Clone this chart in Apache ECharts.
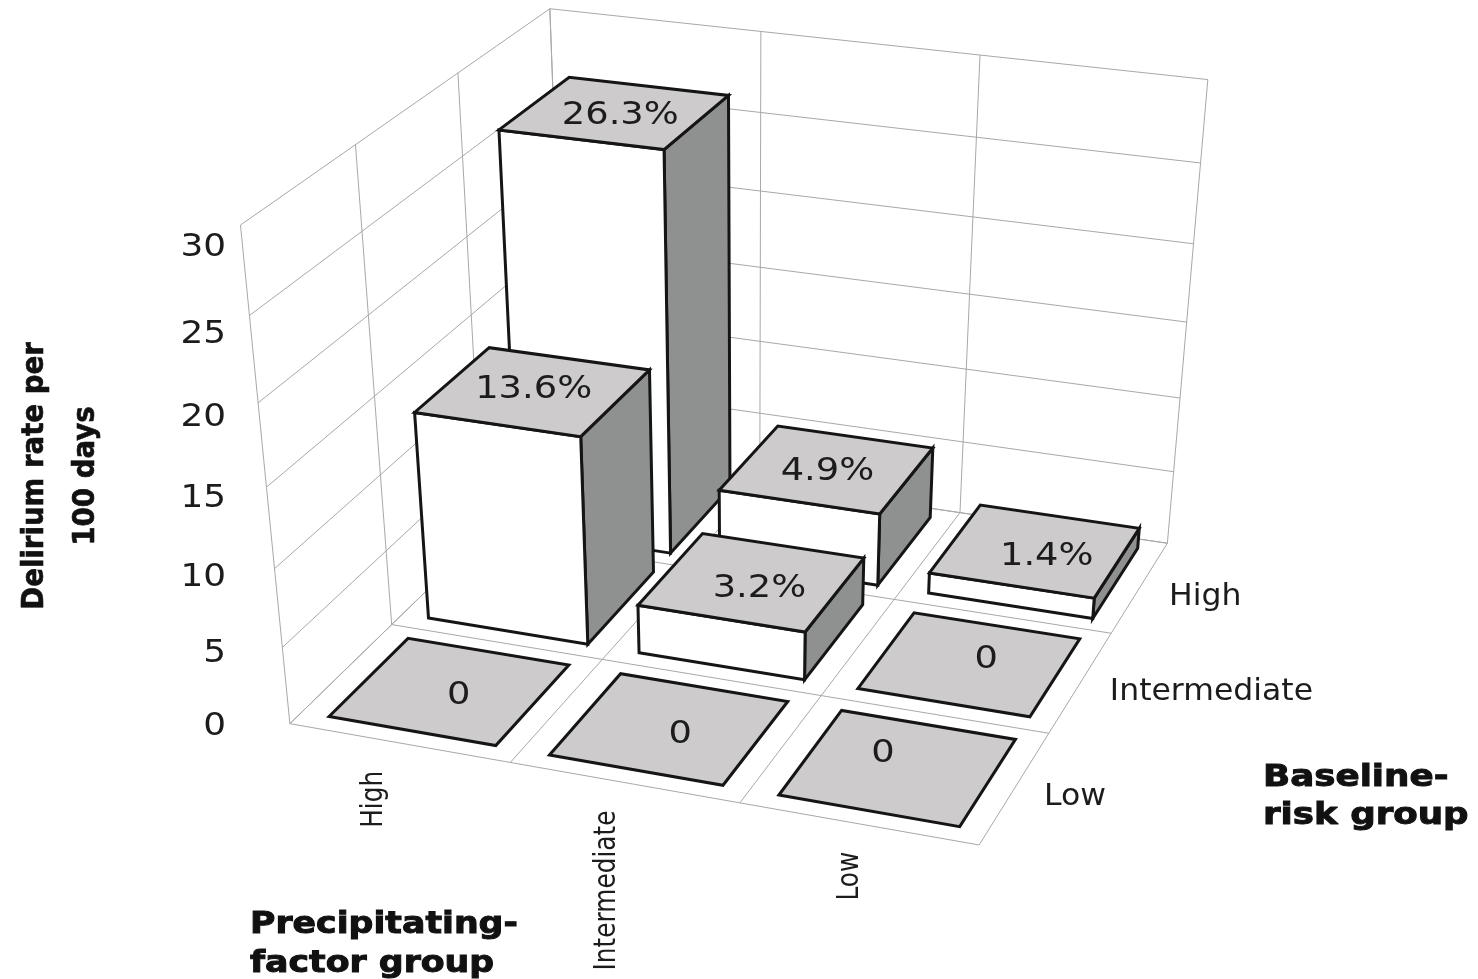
<!DOCTYPE html>
<html>
<head>
<meta charset="utf-8">
<title>Delirium rate per 100 days</title>
<script src="https://cdn.jsdelivr.net/npm/echarts@6/dist/echarts.min.js"></script>
<style>
  html, body { margin: 0; padding: 0; background: #fff; }
  #chart { width: 1478px; height: 979px; }
</style>
</head>
<body>
<div id="chart"></div>
<script>
const precipitatingGroups = ['High', 'Intermediate', 'Low'];
const baselineGroups = ['Low', 'Intermediate', 'High'];
const rateTicks = [0, 5, 10, 15, 20, 25, 30];
// rates per precipitating group, in the order of baselineGroups
const highPrecipitatingRates = [0, 13.6, 26.3];
const intermediatePrecipitatingRates = [0, 3.2, 4.9];
const lowPrecipitatingRates = [0, 0, 1.4];
const ratesByPrecipitating = [highPrecipitatingRates, intermediatePrecipitatingRates, lowPrecipitatingRates];

// camera calibration: box position (precipitating, baseline, rate) -> pixel
const cameraPoints = [
  [0, 0, 0, 290, 723], [1, 0, 0, 512, 763], [2, 0, 0, 742, 803], [3, 0, 0, 978, 846],
  [3, 1, 0, 1048, 733], [3, 2, 0, 1110, 633], [3, 3, 0, 1169, 543], [0, 1, 0, 390, 624],
  [0, 0, 30, 240, 225], [0, 1, 30, 356, 145], [0, 2, 30, 458, 72], [0, 3, 30, 549, 10],
  [1, 3, 30, 763, 32], [2, 3, 30, 979, 55], [3, 3, 30, 1208, 78],
  [0, 0, 15, 266, 487], [3, 3, 15, 1186, 323]
];

function solveCamera(points) {
  const ata = Array.from({ length: 11 }, () => new Array(12).fill(0));
  const addRow = (row, rhs) => {
    for (let i = 0; i < 11; i++) {
      for (let j = 0; j < 11; j++) ata[i][j] += row[i] * row[j];
      ata[i][11] += row[i] * rhs;
    }
  };
  points.forEach(([u, v, w, px, py]) => {
    const z = w / 10, x = px / 1000, y = py / 1000;
    addRow([u, v, z, 1, 0, 0, 0, 0, -x * u, -x * v, -x * z], x);
    addRow([0, 0, 0, 0, u, v, z, 1, -y * u, -y * v, -y * z], y);
  });
  for (let c = 0; c < 11; c++) {
    let pivot = c;
    for (let r = c + 1; r < 11; r++) if (Math.abs(ata[r][c]) > Math.abs(ata[pivot][c])) pivot = r;
    [ata[c], ata[pivot]] = [ata[pivot], ata[c]];
    for (let r = 0; r < 11; r++) {
      if (r === c) continue;
      const f = ata[r][c] / ata[c][c];
      for (let k = c; k < 12; k++) ata[r][k] -= f * ata[c][k];
    }
  }
  return ata.map((row, i) => row[11] / row[i]);
}

const cam = solveCamera(cameraPoints);
function project(u, v, w) {
  const z = w / 10;
  const d = cam[8] * u + cam[9] * v + cam[10] * z + 1;
  return [
    1000 * (cam[0] * u + cam[1] * v + cam[2] * z + cam[3]) / d,
    1000 * (cam[4] * u + cam[5] * v + cam[6] * z + cam[7]) / d
  ];
}

const FONT = '"DejaVu Sans", sans-serif';
const TEXT_COLOR = '#1c1c1c';
const GRID_COLOR = '#a8a8a8';
const TOP_COLOR = '#cdcbcc';
const SIDE_COLOR = '#8f9190';
const EDGE_COLOR = '#151515';
const INSET_U = 0.125;
const SIZE_U = 0.76;
const INSET_V = 0.115;
const SIZE_V = 0.785;
// the value labels do not sit dead centre on every top face
const labelNudge = {
  '0,0': [8, 5], '1,0': [10, 7], '2,0': [-16, -13],
  '0,1': [0, -1], '1,1': [7, 7], '2,1': [16, -4],
  '0,2': [5, 3], '1,2': [0, 3], '2,2': [11, 6]
};

function segment(a, b) {
  return {
    type: 'line',
    shape: { x1: a[0], y1: a[1], x2: b[0], y2: b[1] },
    style: { stroke: GRID_COLOR, lineWidth: 1 }
  };
}

function face(points, fill) {
  return {
    type: 'polygon',
    shape: { points },
    style: { fill, stroke: EDGE_COLOR, lineWidth: 3, lineJoin: 'miter' }
  };
}

function label(text, x, y, size, align, scaleX) {
  return {
    type: 'text',
    x,
    y,
    scaleX,
    style: {
      text,
      fill: TEXT_COLOR,
      font: 'normal ' + size + 'px ' + FONT,
      textAlign: align,
      textVerticalAlign: 'middle'
    }
  };
}

function renderFrame() {
  const us = precipitatingGroups.length;
  const vs = baselineGroups.length;
  const top = rateTicks[rateTicks.length - 1];
  const children = [];
  rateTicks.forEach((t) => {
    children.push(segment(project(0, 0, t), project(0, vs, t)));
    children.push(segment(project(0, vs, t), project(us, vs, t)));
  });
  for (let v = 0; v <= vs; v++) {
    children.push(segment(project(0, v, 0), project(0, v, top)));
    children.push(segment(project(0, v, 0), project(us, v, 0)));
  }
  for (let u = 0; u <= us; u++) {
    children.push(segment(project(u, vs, 0), project(u, vs, top)));
    children.push(segment(project(u, 0, 0), project(u, vs, 0)));
  }
  return { type: 'group', children };
}

function renderBar(params, api) {
  const col = api.value(0);
  const row = api.value(1);
  const rate = api.value(2);
  const u0 = col + INSET_U;
  const v0 = row + INSET_V;
  const u1 = u0 + SIZE_U;
  const v1 = v0 + SIZE_V;
  const topFace = [project(u0, v0, rate), project(u1, v0, rate), project(u1, v1, rate), project(u0, v1, rate)];
  const children = [];
  if (rate > 0) {
    children.push(face([project(u1, v0, 0), project(u1, v1, 0), project(u1, v1, rate), project(u1, v0, rate)], SIDE_COLOR));
    children.push(face([project(u0, v0, 0), project(u1, v0, 0), project(u1, v0, rate), project(u0, v0, rate)], '#ffffff'));
  }
  children.push(face(topFace, TOP_COLOR));
  const c = project((u0 + u1) / 2, (v0 + v1) / 2, rate);
  const nudge = labelNudge[col + ',' + row] || [0, 0];
  children.push(label(rate > 0 ? rate.toFixed(1) + '%' : '0', c[0] + nudge[0], c[1] + nudge[1], 32, 'center', 1.15));
  return { type: 'group', children };
}

function renderAxisText() {
  const children = [];
  rateTicks.forEach((t) => {
    const p = project(0, 0, t * 0.964);
    children.push(label(String(t), 226, p[1] + 3, 32, 'right', 1.12));
  });
  precipitatingGroups.forEach((name, i) => {
    const p = project(i + 0.5, 0, 0);
    children.push({
      type: 'text', x: p[0] - 25 + 8.5 * i, y: p[1] + 28, rotation: Math.PI / 2, scaleX: 0.8,
      style: { text: name, fill: TEXT_COLOR, font: 'normal 31px ' + FONT, textAlign: 'right', textVerticalAlign: 'middle' }
    });
  });
  baselineGroups.forEach((name, i) => {
    const p = project(3, i + 0.5, 0);
    children.push(label(name, p[0] + 29, p[1] + 10, 30, 'left', 1.05));
  });
  const boldText = (text, x, y, scaleX) => ({
    type: 'text', x, y, scaleX,
    style: { text, fill: '#111', stroke: '#111', lineWidth: 1, font: 'bold 31px ' + FONT, textAlign: 'left', textVerticalAlign: 'middle' }
  });
  children.push(boldText('Precipitating-', 250, 925, 1.12));
  children.push(boldText('factor group', 250, 964, 1.12));
  children.push(boldText('Baseline-', 1263, 778, 1.15));
  children.push(boldText('risk group', 1263, 816, 1.15));
  const side = (text, x) => ({
    type: 'text', x, y: 476, rotation: Math.PI / 2, scaleX: 0.92,
    style: { text, fill: '#111', stroke: '#111', lineWidth: 0.6, font: 'bold 30px ' + FONT, textAlign: 'center', textVerticalAlign: 'middle' }
  });
  children.push(side('Delirium rate per', 35));
  children.push(side('100 days', 86));
  return { type: 'group', children };
}

// far row first so the nearer bars paint over it
const barRows = [];
for (let v = baselineGroups.length - 1; v >= 0; v--) {
  ratesByPrecipitating.forEach((rates, u) => barRows.push([u, v, rates[v]]));
}

const chart = echarts.init(document.getElementById('chart'));
chart.setOption({
  animation: false,
  backgroundColor: '#ffffff',
  series: [
    { type: 'custom', coordinateSystem: 'none', silent: true, data: [0], renderItem: renderFrame },
    { type: 'custom', coordinateSystem: 'none', silent: true, data: barRows, renderItem: renderBar },
    { type: 'custom', coordinateSystem: 'none', silent: true, data: [0], renderItem: renderAxisText }
  ]
});
</script>
</body>
</html>
